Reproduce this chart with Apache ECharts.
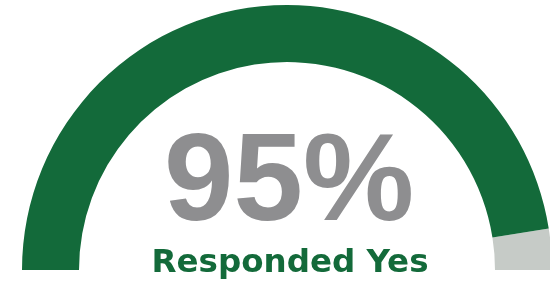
<!DOCTYPE html>
<html>
<head>
<meta charset="utf-8">
<script src="https://cdn.jsdelivr.net/npm/echarts@6/dist/echarts.min.js"></script>
<style>
  html, body { margin: 0; padding: 0; background: #fff; }
  #chart { width: 550px; height: 283px; }
</style>
</head>
<body>
<div id="chart"></div>
<script>
// data
const labels = ['Responded Yes']
const values = [95]
const scaleMax = [100]

const chart = echarts.init(document.getElementById('chart'))

const share = values[0] / scaleMax[0]

chart.setOption({
  animation: false,
  series: [{
    type: 'gauge',
    center: [287, 270],
    radius: 265,
    startAngle: 180,
    endAngle: 0,
    min: 0,
    max: scaleMax[0],
    axisLine: {
      lineStyle: {
        width: 57,
        color: [[share, '#136a3a'], [1, '#c6cbc7']]
      }
    },
    pointer: { show: false },
    axisTick: { show: false },
    splitLine: { show: false },
    axisLabel: { show: false },
    title: {
      offsetCenter: [3, -6],
      color: '#136a3a',
      fontFamily: 'DejaVu Sans',
      fontWeight: 'bold',
      fontSize: 32.5
    },
    detail: {
      offsetCenter: [2, -84],
      color: '#8e8e90',
      fontFamily: 'Liberation Sans',
      fontWeight: 'bold',
      fontSize: 125,
      formatter: '{value}%'
    },
    data: [{ value: values[0], name: labels[0] }]
  }]
})
</script>
</body>
</html>
